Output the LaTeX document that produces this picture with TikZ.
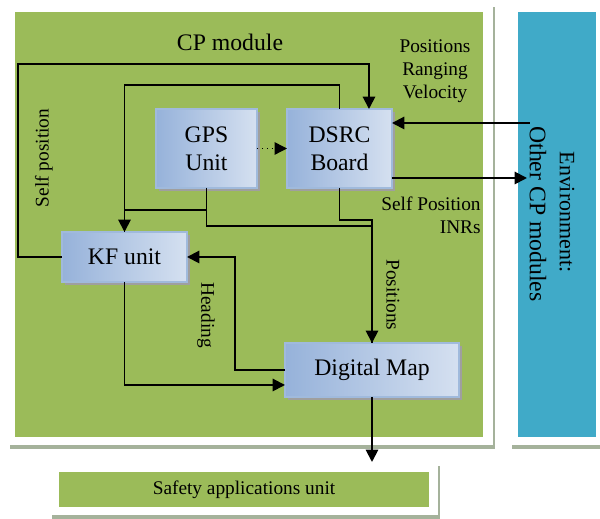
\documentclass[tikz,border=0pt]{standalone}
\usepackage{fontspec}
\setmainfont{Liberation Serif}
\usetikzlibrary{arrows.meta,shadows}
\definecolor{cpgreen}{RGB}{155,187,89}
\definecolor{envblue}{RGB}{64,170,200}
\definecolor{boxedge}{RGB}{160,186,220}
\definecolor{boxshade}{RGB}{150,178,218}
\definecolor{frameshadow}{RGB}{165,178,155}

\begin{document}
\begin{tikzpicture}[x=0.02cm, y=-0.02cm,
	frame/.style={fill=white, inner sep=0pt, outer sep=0pt,
		drop shadow={shadow xshift=0.04cm, shadow yshift=-0.08cm, fill=frameshadow, opacity=1}},
	panel/.style={inner sep=0pt, outer sep=0pt},
	unitbox/.style={draw=boxedge, line width=0.6pt, inner sep=0pt, outer sep=0pt,
		left color=boxshade, middle color=white, right color=white!60!boxshade, align=center,
		font=\fontsize{13.5}{16}\selectfont,
		drop shadow={shadow xshift=0.06cm, shadow yshift=-0.06cm, fill=gray!75, opacity=1}},
	lbl/.style={font=\fontsize{11}{13}\selectfont, inner sep=0pt},
	flow/.style={line width=1.1pt, -{Triangle[length=7pt,width=7pt]}},
	wire/.style={line width=1.1pt}]

	\useasboundingbox[fill=white] (0,0) rectangle (600,519);

	\node[frame, minimum width=9.7cm, minimum height=8.84cm] (cpframe) at (250.5,224) {};
	\node[panel, fill=cpgreen, minimum width=9.36cm, minimum height=8.5cm] (cp) at (249,224.5) {};
	\node[frame, minimum width=1.8cm, minimum height=8.84cm] (envframe) at (555,224) {};
	\node[panel, fill=envblue, minimum width=1.56cm, minimum height=8.5cm] (env) at (557,224.5) {};
	\node[frame, minimum width=7.76cm, minimum height=1.06cm] (safetyframe) at (244,488.5) {};
	\node[panel, fill=cpgreen, minimum width=7.4cm, minimum height=0.7cm, font=\fontsize{11}{13}\selectfont] (safety) at (244,489.5) {Safety applications unit};

	\node[font=\fontsize{13.5}{16}\selectfont] (cptitle) at (230,42) {CP module};

	\node[unitbox, minimum width=2.02cm, minimum height=1.58cm] (gps) at (206.5,148.5) {GPS\\Unit};
	\node[unitbox, minimum width=2.1cm, minimum height=1.58cm] (dsrc) at (339.5,148.5) {DSRC\\Board};
	\node[unitbox, minimum width=2.5cm, minimum height=1cm] (kf) at (124.5,257) {KF unit};
	\node[unitbox, minimum width=3.48cm, minimum height=1.08cm] (map) at (372,370) {Digital Map};

	\node[rotate=-90, font=\fontsize{12.5}{15}\selectfont] (envtxt) at (567,212) {Environment:};
	\node[rotate=-90, font=\fontsize{13.5}{16}\selectfont] (othertxt) at (538,214) {Other CP modules};

	\coordinate (envin) at (530,123);
	\coordinate (envout) at (527,178);

	\draw[flow] (kf.west) -- ++(-44,0) -- ++(0,-193) -| ([xshift=0.59cm]dsrc.north);
	\draw[flow] (dsrc.north) -- ++(0,-24) -| (kf.north);
	\draw[wire] ([yshift=-0.44cm]gps.south) -| (kf.north);
	\draw[flow] (gps.south) -- ++(0,38) -| (map.north);
	\draw[wire] (dsrc.south) -- ++(0,32) -| (map.north);
	\draw[flow] (map.west) -- ++(-50,0) |- (kf.east);
	\draw[flow] (kf.south) |- ([yshift=-0.3cm]map.west);
	\draw[flow] (map.south) -- (map.south |- safetyframe.north);
	\draw[flow, line width=0.8pt, dotted] (gps.east) -- (dsrc.west);
	\draw[flow] (envin) -- (dsrc.east |- envin);
	\draw[flow] (dsrc.east |- envout) -- (envout);

	\node[lbl, align=center] (pos1) at (435,71) {Positions\\Ranging\\Velocity};
	\node[lbl, align=right, anchor=east] (selfinr) at (481,215) {Self Position\\INRs};
	\node[lbl, rotate=-90] (pos2) at (393,295) {Positions};
	\node[lbl, rotate=-90] (head) at (206,315) {Heading};
	\node[lbl, rotate=90] (selfpos) at (44,158) {Self position};
\end{tikzpicture}
\end{document}
